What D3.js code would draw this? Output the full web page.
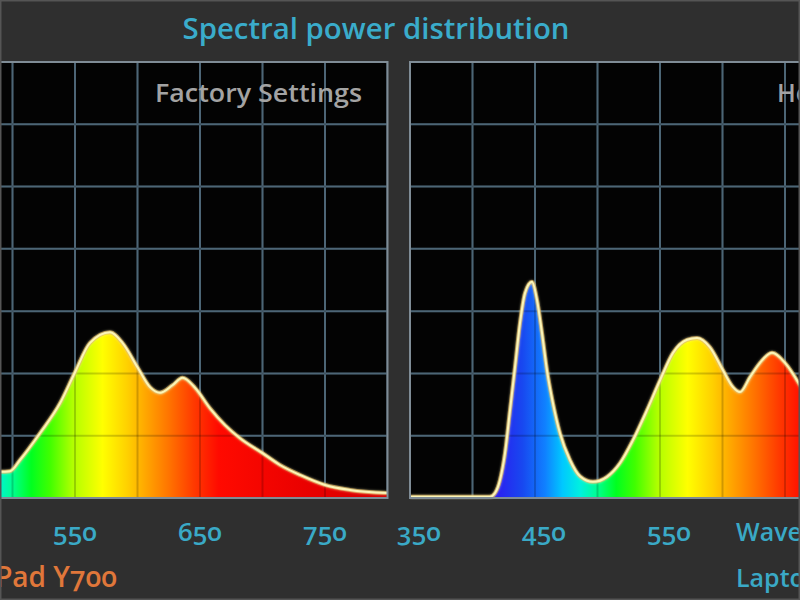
<!DOCTYPE html>
<html>
<head>
<meta charset="utf-8">
<script src="https://cdn.jsdelivr.net/npm/d3@7"></script>
<style>
  html, body { margin: 0; padding: 0; background: #2f2f2f; }
  svg { display: block; }
  text { font-family: "Open Sans", "Lato", sans-serif; }
</style>
</head>
<body>
<svg id="chart" width="800" height="600"></svg>
<script>
// ---------------- data ----------------
const chartTitle = "Spectral power distribution";
const panelLabels = ["Factory Settings", "He"];
const deviceLabels = ["Legion Pad Y700", "Laptop"];
const axisTitle = "Wavelength (nm)";

const ticksLeft = [550, 650, 750];
const ticksRight = [350, 450, 550];

// Left panel (Factory Settings) – wavelength (nm) and relative power
const nmLeft  = [486, 490, 498, 506, 522, 538, 550, 562, 578, 588, 600, 610, 618, 628, 636, 646, 658, 670, 682, 700, 714, 730, 750, 770, 800];
const powLeft = [4.2, 4.2, 4.3, 6.1, 10.4, 15.2, 20.2, 24.9, 26.6, 24.9, 21.0, 17.8, 16.9, 18.1, 19.3, 17.7, 14.4, 11.7, 9.6, 7.2, 5.3, 3.7, 2.1, 1.3, 0.8];

// Right panel – wavelength (nm) and relative power
const nmRight  = [350, 380, 414, 418, 422, 426, 430, 434, 438, 442, 447.6, 451.6, 455.6, 459.6, 464.4, 470, 478, 486, 496.4, 507.6, 518, 528.4, 539.6, 550, 560.4, 571.6, 579.6, 590, 600.4, 608.4, 614, 622, 630, 639.6, 650, 662, 668];
const powRight = [0.2, 0.2, 0.2, 0.8, 2.9, 7.2, 14.1, 21.0, 28.1, 32.9, 34.7, 31.8, 26.5, 20.5, 15.2, 10.4, 6.1, 3.5, 2.6, 3.4, 5.6, 9.3, 14.1, 18.9, 23.3, 25.4, 25.7, 24.2, 20.5, 17.8, 17.0, 19.4, 21.7, 23.3, 21.7, 18.1, 16.0];

// spectral colour stops for the fill
const spectrumNm     = [380, 420, 440, 458, 472, 486, 500, 515, 530, 548, 572, 592, 606, 625, 645, 665, 740, 800];
const spectrumColors = ["#4a10c0", "#2a20f0", "#1848f0", "#1080ff", "#00c8ff", "#00f0e0", "#00ff90", "#00ff20", "#40ff00", "#b0ff00", "#ffff00", "#ffd000", "#ffa800", "#ff7400", "#ff3a00", "#ff0a00", "#e80000", "#d40000"];

// ---------------- drawing ----------------
const svg = d3.select("#chart");
const W = 800, H = 600;
const yTop = 62, yBot = 498;

svg.append("rect").attr("width", W).attr("height", H).attr("fill", "#2f2f2f");

const y = d3.scaleLinear().domain([0, 70]).range([yBot, yTop]);
const gridY = d3.range(10, 70, 10);

const panels = [
  { id: "L", x: d3.scaleLinear().domain([350, 800]).range([-175, 387.5]), clip: [0, 387.5],
    nm: nmLeft, pow: powLeft, ticks: ticksLeft, label: panelLabels[0], labelAnchor: "end", labelX: 362, tickDx: 0 },
  { id: "R", x: d3.scaleLinear().domain([350, 800]).range([410, 972.5]), clip: [410, 800],
    nm: nmRight, pow: powRight, ticks: ticksRight, label: panelLabels[1], labelAnchor: "start", labelX: 777, tickDx: 9 }
];

const defs = svg.append("defs");
const glow = defs.append("filter").attr("id", "glow").attr("x", "-10%").attr("y", "-10%").attr("width", "120%").attr("height", "120%");
glow.append("feGaussianBlur").attr("stdDeviation", 1.6).attr("result", "b");
const merge = glow.append("feMerge");
merge.append("feMergeNode").attr("in", "b");
merge.append("feMergeNode").attr("in", "SourceGraphic");

panels.forEach(p => {
  const x = p.x;
  const x0 = p.clip[0], x1 = p.clip[1];
  defs.append("clipPath").attr("id", "clip" + p.id)
    .append("rect").attr("x", x0).attr("y", yTop - 2).attr("width", x1 - x0).attr("height", yBot - yTop + 4);

  const grad = defs.append("linearGradient").attr("id", "spec" + p.id)
    .attr("gradientUnits", "userSpaceOnUse")
    .attr("x1", x(spectrumNm[0])).attr("x2", x(spectrumNm[spectrumNm.length - 1]))
    .attr("y1", 0).attr("y2", 0);
  const span = spectrumNm[spectrumNm.length - 1] - spectrumNm[0];
  spectrumNm.forEach((n, i) => {
    grad.append("stop").attr("offset", (n - spectrumNm[0]) / span).attr("stop-color", spectrumColors[i]);
  });

  const g = svg.append("g").attr("clip-path", `url(#clip${p.id})`);
  g.append("rect").attr("x", x0).attr("y", yTop).attr("width", x1 - x0).attr("height", yBot - yTop).attr("fill", "#030303");

  const gridX = d3.range(350, 801, 50);
  const drawGrid = (sel, col, op) => {
    sel.selectAll(null).data(gridX).join("line")
      .attr("x1", d => x(d)).attr("x2", d => x(d)).attr("y1", yTop).attr("y2", yBot)
      .attr("stroke", col).attr("stroke-width", 2).attr("opacity", op);
    sel.selectAll(null).data(gridY).join("line")
      .attr("x1", x0).attr("x2", x1).attr("y1", d => y(d)).attr("y2", d => y(d))
      .attr("stroke", col).attr("stroke-width", 2).attr("opacity", op);
  };
  drawGrid(g.append("g"), "#5e7c90", 1);

  const data = p.nm.map((n, i) => [n, p.pow[i]]);
  const area = d3.area().x(d => x(d[0])).y0(yBot).y1(d => y(d[1])).curve(d3.curveMonotoneX);
  const line = d3.line().x(d => x(d[0])).y(d => y(d[1])).curve(d3.curveMonotoneX);

  g.append("path").datum(data).attr("d", area).attr("fill", `url(#spec${p.id})`);
  drawGrid(g.append("g"), "#000", 0.18);
  g.append("path").datum(data).attr("d", line).attr("fill", "none")
    .attr("stroke", "#d8a040").attr("stroke-width", 4).attr("opacity", 0.7);
  g.append("path").datum(data).attr("d", line).attr("fill", "none")
    .attr("stroke", "#fbf5b8").attr("stroke-width", 2).attr("filter", "url(#glow)");

  // panel frame
  svg.append("rect").attr("x", x0 - (p.id === "L" ? 10 : 0)).attr("y", yTop).attr("width", x1 - x0 + 10).attr("height", yBot - yTop)
    .attr("fill", "none").attr("stroke", "#7f8c96").attr("stroke-width", 2);

  // panel label
  svg.append("text").attr("x", p.labelX).attr("y", 102).attr("text-anchor", p.labelAnchor)
    .attr("font-size", 25).attr("font-weight", 600).attr("fill", "#a3a3a3")
    .attr("textLength", p.id === "L" ? 207 : null).attr("lengthAdjust", "spacingAndGlyphs")
    .text(p.label);

  // tick labels
  svg.append("g").selectAll("text").data(p.ticks).join("text")
    .attr("x", d => x(d) + p.tickDx).attr("y", 541).attr("text-anchor", "middle")
    .attr("font-size", 26).attr("font-weight", 600).attr("fill", "#3aa9c6")
    .style("font-variant-numeric", "oldstyle-nums")
    .text(d => d);
});

// title
svg.append("text").attr("x", 376).attr("y", 39).attr("text-anchor", "middle")
  .attr("font-size", 28).attr("font-weight", 600).attr("fill", "#3aaccb")
  .attr("textLength", 387).attr("lengthAdjust", "spacingAndGlyphs")
  .text(chartTitle);

// axis title and device labels
svg.append("text").attr("x", 736).attr("y", 541).attr("font-size", 25).attr("font-weight", 600)
  .attr("fill", "#3aa9c6").text(axisTitle);
svg.append("text").attr("x", 117).attr("y", 587).attr("text-anchor", "end").attr("font-size", 28).attr("font-weight", 600)
  .attr("fill", "#e0773a").style("font-variant-numeric", "oldstyle-nums").text(deviceLabels[0]);
svg.append("text").attr("x", 736).attr("y", 587).attr("font-size", 25).attr("font-weight", 600)
  .attr("fill", "#3aa9c6").text(deviceLabels[1]);

// outer frame
svg.append("rect").attr("x", 0.5).attr("y", 0.5).attr("width", W - 1).attr("height", H - 1)
  .attr("fill", "none").attr("stroke", "#555").attr("stroke-width", 2);
</script>
</body>
</html>
